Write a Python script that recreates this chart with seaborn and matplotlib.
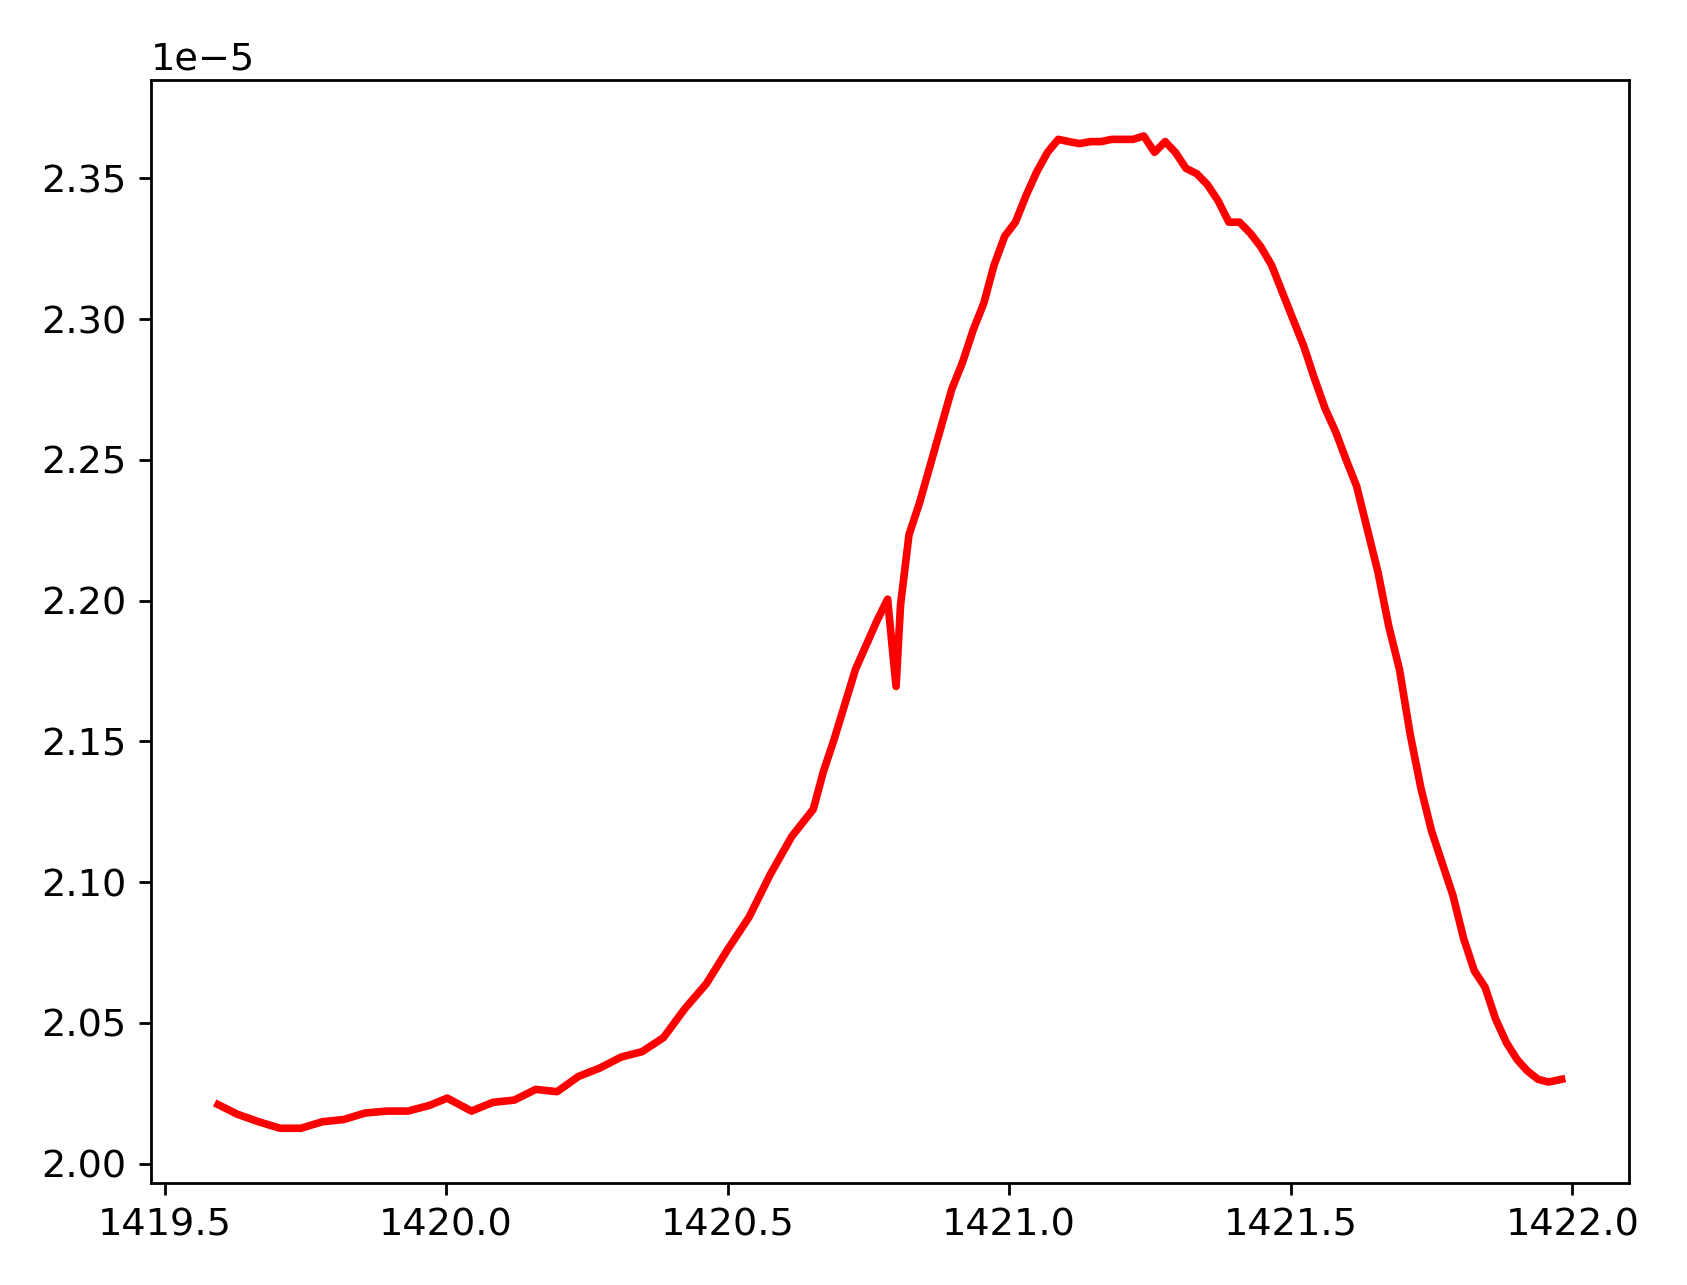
import numpy as np
import pandas as pd
import matplotlib
matplotlib.use("Agg")
import matplotlib.pyplot as plt
import seaborn as sns

plt.rcParams.update({"font.size": 11})

# frequency (MHz) and power (x1e-5)
freq = [1419.595, 1419.629, 1419.667, 1419.705, 1419.742, 1419.780, 1419.818, 1419.856,
        1419.894, 1419.932, 1419.970, 1420.002, 1420.045, 1420.083, 1420.121, 1420.159,
        1420.197, 1420.235, 1420.273, 1420.311, 1420.348, 1420.386, 1420.424, 1420.462,
        1420.500, 1420.538, 1420.576, 1420.614, 1420.652, 1420.670, 1420.689, 1420.727,
        1420.765, 1420.784, 1420.799, 1420.807, 1420.822, 1420.841, 1420.860, 1420.879,
        1420.898, 1420.917, 1420.936, 1420.955, 1420.973, 1420.992, 1421.011, 1421.030,
        1421.049, 1421.068, 1421.087, 1421.106, 1421.125, 1421.144, 1421.163, 1421.182,
        1421.201, 1421.220, 1421.239, 1421.258, 1421.277, 1421.295, 1421.314, 1421.333,
        1421.352, 1421.371, 1421.390, 1421.409, 1421.428, 1421.447, 1421.466, 1421.485,
        1421.504, 1421.523, 1421.542, 1421.561, 1421.580, 1421.598, 1421.617, 1421.636,
        1421.655, 1421.674, 1421.693, 1421.712, 1421.731, 1421.750, 1421.769, 1421.788,
        1421.807, 1421.826, 1421.845, 1421.864, 1421.883, 1421.902, 1421.920, 1421.939,
        1421.958, 1421.981]
power = [2.0210, 2.0176, 2.0149, 2.0126, 2.0126, 2.0149, 2.0157, 2.0180,
         2.0187, 2.0187, 2.0207, 2.0233, 2.0187, 2.0218, 2.0226, 2.0264,
         2.0256, 2.0310, 2.0340, 2.0379, 2.0398, 2.0448, 2.0551, 2.0639,
         2.0761, 2.0876, 2.1029, 2.1163, 2.1259, 2.1393, 2.1507, 2.1756,
         2.1928, 2.2005, 2.1695, 2.1985, 2.2234, 2.2349, 2.2483, 2.2617,
         2.2751, 2.2846, 2.2961, 2.3057, 2.3191, 2.3294, 2.3344, 2.3439,
         2.3523, 2.3592, 2.3638, 2.3630, 2.3623, 2.3630, 2.3630, 2.3638,
         2.3638, 2.3638, 2.3650, 2.3592, 2.3630, 2.3592, 2.3535, 2.3516,
         2.3477, 2.3420, 2.3344, 2.3344, 2.3305, 2.3256, 2.3191, 2.3095,
         2.2999, 2.2904, 2.2789, 2.2682, 2.2598, 2.2502, 2.2406, 2.2253,
         2.2100, 2.1909, 2.1756, 2.1526, 2.1335, 2.1182, 2.1067, 2.0953,
         2.0800, 2.0685, 2.0627, 2.0513, 2.0430, 2.0370, 2.0330, 2.0300,
         2.0290, 2.0300]

df = pd.DataFrame({"freq": freq, "power": np.array(power) * 1e-5})

fig, ax = plt.subplots(figsize=(1687 / 250, 1285 / 250), dpi=250)
sns.lineplot(data=df, x="freq", y="power", color="red", linewidth=2.2, ax=ax)
ax.set_xlabel("")
ax.set_ylabel("")
ax.set_ylim(1.993e-5, 2.385e-5)
ax.set_xticks([1419.5, 1420.0, 1420.5, 1421.0, 1421.5, 1422.0])

plt.tight_layout()
plt.savefig("out.png", dpi=250)
